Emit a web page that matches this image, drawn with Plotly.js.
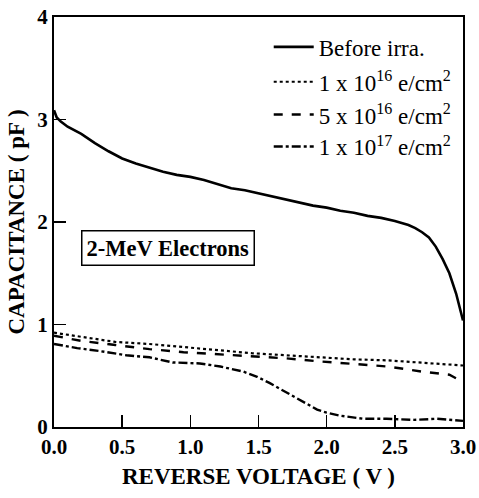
<!DOCTYPE html>
<html><head><meta charset="utf-8">
<script src="https://cdn.plot.ly/plotly-3.0.1.min.js"></script>
<style>html,body{margin:0;padding:0;background:#fff;}#chart{width:479px;height:498px;}</style>
</head><body><div id="chart"></div>
<script>
const seriesNames = ["Before irra.", "1 x 10<sup>16</sup> e/cm<sup>2</sup>", "5 x 10<sup>16</sup> e/cm<sup>2</sup>", "1 x 10<sup>17</sup> e/cm<sup>2</sup>"];
const xBefore = [0,0.02,0.05,0.1,0.2,0.3,0.4,0.5,0.6,0.7,0.8,0.9,1.0,1.1,1.2,1.3,1.4,1.5,1.6,1.7,1.8,1.9,2.0,2.1,2.2,2.3,2.4,2.5,2.6,2.65,2.7,2.75,2.8,2.85,2.9,2.95,3.0];
const yBefore = [3.09,3.02,2.98,2.93,2.86,2.77,2.69,2.62,2.57,2.53,2.49,2.46,2.44,2.41,2.37,2.33,2.31,2.28,2.25,2.22,2.19,2.16,2.14,2.11,2.09,2.06,2.04,2.01,1.97,1.94,1.90,1.85,1.76,1.64,1.50,1.30,1.04];
const x1e16 = [0,0.2,0.45,0.7,0.95,1.2,1.45,1.7,1.95,2.2,2.45,2.7,3.0];
const y1e16 = [0.92,0.88,0.83,0.81,0.78,0.75,0.72,0.70,0.68,0.66,0.65,0.63,0.60];
const x5e16 = [0,0.2,0.45,0.7,0.95,1.2,1.5,1.7,1.95,2.15,2.45,2.7,2.9,3.0];
const y5e16 = [0.89,0.84,0.80,0.76,0.73,0.71,0.68,0.67,0.64,0.62,0.59,0.54,0.51,0.44];
const x1e17 = [0,0.17,0.34,0.53,0.7,0.87,1.07,1.22,1.39,1.49,1.58,1.74,1.83,1.93,2.0,2.1,2.27,2.44,2.64,2.81,3.0];
const y1e17 = [0.81,0.77,0.74,0.70,0.68,0.63,0.62,0.59,0.54,0.49,0.43,0.31,0.24,0.17,0.14,0.11,0.08,0.08,0.07,0.08,0.06];
const xTickVals = [0,0.5,1,1.5,2,2.5,3];
const xTickText = ["0.0","0.5","1.0","1.5","2.0","2.5","3.0"];
const yTickVals = [0,1,2,3,4];
const yTickText = ["0","1","2","3","4"];

const serif = "'Liberation Serif'";
const traces = [
  {x:xBefore, y:yBefore, name:seriesNames[0], legend:"legend", mode:"lines", line:{color:"#000", width:2.6, dash:"solid"}},
  {x:x1e16, y:y1e16, name:seriesNames[1], legend:"legend2", mode:"lines", line:{color:"#000", width:2.2, dash:"dot"}},
  {x:x5e16, y:y5e16, name:seriesNames[2], legend:"legend3", mode:"lines", line:{color:"#000", width:2.4, dash:"dash"}},
  {x:x1e17, y:y1e17, name:seriesNames[3], legend:"legend4", mode:"lines", line:{color:"#000", width:2.4, dash:"dashdot"}}
];
function leg(yc){
  return {x:0.525, y:yc, xanchor:"left", yanchor:"middle", bgcolor:"rgba(0,0,0,0)",
    font:{family:serif, size:23, color:"#000"}, itemwidth:40};
}
const layout = {
  width:479, height:498,
  margin:{l:54, r:16, t:17, b:71},
  paper_bgcolor:"#fff", plot_bgcolor:"#fff",
  showlegend:true,
  legend:leg(0.927), legend2:leg(0.842), legend3:leg(0.762), legend4:leg(0.684),
  xaxis:{range:[0,3], tickvals:xTickVals, ticktext:xTickText, ticks:"inside", ticklen:12, tickwidth:1.5, tickcolor:"#000",
    showline:true, linecolor:"#000", linewidth:2, mirror:true, showgrid:false, zeroline:false,
    tickfont:{family:serif, size:21, color:"#000", weight:"bold"},
    title:{text:"REVERSE VOLTAGE ( V )", font:{family:serif, size:23, color:"#000", weight:"bold"}, standoff:10}},
  yaxis:{range:[0,4], tickvals:yTickVals, ticktext:yTickText, ticks:"inside", ticklen:12, tickwidth:1.5, tickcolor:"#000",
    showline:true, linecolor:"#000", linewidth:2, mirror:true, showgrid:false, zeroline:false,
    tickfont:{family:serif, size:21, color:"#000", weight:"bold"},
    title:{text:"CAPACITANCE ( pF )", font:{family:serif, size:23, color:"#000", weight:"bold"}, standoff:6}},
  annotations:[{xref:"x", yref:"y", x:0.833, y:1.75, text:"<b>2-MeV Electrons</b>", showarrow:false,
    font:{family:serif, size:22.5, color:"#000"}, bordercolor:"#000", borderwidth:1.5, borderpad:4, bgcolor:"#fff"}]
};
Plotly.newPlot("chart", traces, layout, {displayModeBar:false, staticPlot:true});
</script></body></html>
